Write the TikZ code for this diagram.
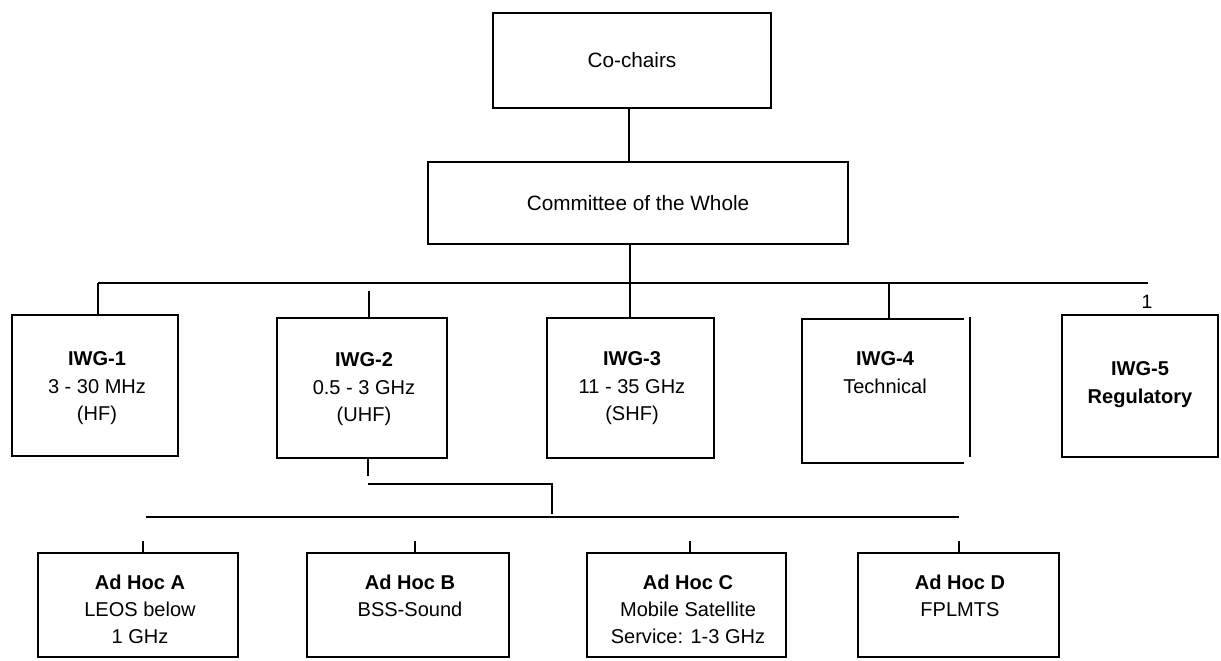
\documentclass[tikz,border=0pt]{standalone}
\usepackage{fontspec}
\setmainfont{Liberation Sans}
\begin{document}
\begin{tikzpicture}[x=0.2mm, y=-0.2mm, line width=1.1pt,
        box/.style={draw, rectangle, inner sep=0pt},
        headtext/.style={font=\fontsize{11.8}{14}\selectfont},
        lbl/.style={inner sep=0pt, anchor=north, align=center, font=\fontsize{11.4}{15.4}\selectfont},
        smalltext/.style={inner sep=0pt, font=\fontsize{11}{12}\selectfont}]
        \useasboundingbox (0,0) rectangle (1221,660);

        % Top
        \node[box, headtext, minimum width=55.6mm, minimum height=19mm] (cochairs) at (632,60.5) {Co-chairs};
        \node[box, headtext, minimum width=84mm, minimum height=16.4mm] (committee) at (638,203) {Committee of the Whole};

        % Working groups
        \node[box, minimum width=33.2mm, minimum height=28.2mm] (iwg1) at (95,385.5) {};
        \node[box, minimum width=34mm, minimum height=28mm] (iwg2) at (362,388) {};
        \node[box, minimum width=33.4mm, minimum height=28mm] (iwg3) at (630.5,388) {};
        \node[minimum width=32mm, minimum height=28.4mm, inner sep=0pt] (iwg4) at (883,391) {};
        \node[box, minimum width=31.2mm, minimum height=28.4mm] (iwg5) at (1140,386) {};
        \draw (iwg4.north east) -- (iwg4.north west) -- (iwg4.south west) -- (iwg4.south east);
        \draw (970,317) -- (970,457);

        \node[lbl] (iwg1t) at (97,351) {\textbf{IWG-1}\\3 - 30 MHz\\(HF)};
        \node[lbl] (iwg2t) at (364,352) {\textbf{IWG-2}\\0.5 - 3 GHz\\(UHF)};
        \node[lbl] (iwg3t) at (632,351) {\textbf{IWG-3}\\11 - 35 GHz\\(SHF)};
        \node[lbl] (iwg4t) at (885,351) {\textbf{IWG-4}\\Technical};
        \node[lbl] (iwg5t) at (1140,361) {\textbf{IWG-5}\\\textbf{Regulatory}};
        \node[smalltext] (one) at (1147,302) {1};

        % Ad hoc groups
        \node[box, minimum width=40mm, minimum height=20.8mm] (adA) at (138,605) {};
        \node[box, minimum width=40.4mm, minimum height=20.8mm] (adB) at (408,605) {};
        \node[box, minimum width=39.8mm, minimum height=20.8mm] (adC) at (686.5,605) {};
        \node[box, minimum width=40.2mm, minimum height=20.8mm] (adD) at (958.5,605) {};

        \node[lbl] (adAt) at (140,574) {\textbf{Ad Hoc A}\\LEOS below\\1 GHz};
        \node[lbl] (adBt) at (410,574) {\textbf{Ad Hoc B}\\BSS-Sound};
        \node[lbl] (adCt) at (688,574) {\textbf{Ad Hoc C}\\Mobile Satellite\\Service: 1-3 GHz};
        \node[lbl] (adDt) at (960,574) {\textbf{Ad Hoc D}\\FPLMTS};

        % Lines
        \coordinate (trunk) at (630,283);
        \coordinate (barL) at (98,283);
        \coordinate (barR) at (1148,283);
        \coordinate (tick2) at (369,291);
        \coordinate (tick4) at (889,283);
        \draw (cochairs.south -| 629,0) -- (committee.north -| 629,0);
        \draw (committee.south -| trunk) -- (trunk);
        \draw (barL) -- (barR);
        \draw (barL) -- (iwg1.north -| barL);
        \draw (tick2) -- (iwg2.north -| tick2);
        \draw (trunk) -- (iwg3.north -| trunk);
        \draw (tick4) -- (iwg4.north -| tick4);

        \coordinate (drop) at (368,476);
        \coordinate (jogL) at (368,484);
        \coordinate (jogR) at (552,484);
        \coordinate (jogB) at (552,514);
        \coordinate (subL) at (146,517);
        \coordinate (subR) at (959,517);
        \draw (iwg2.south -| drop) -- (drop);
        \draw (jogL) -- (jogR) -- (jogB);
        \draw (subL) -- (subR);

        \coordinate (tA) at (143,541);
        \coordinate (tB) at (415,541);
        \coordinate (tC) at (690,541);
        \coordinate (tD) at (959,541);
        \foreach \n/\t in {adA/tA, adB/tB, adC/tC, adD/tD}
            \draw (\t) -- (\n.north -| \t);
    \end{tikzpicture}
\end{document}
